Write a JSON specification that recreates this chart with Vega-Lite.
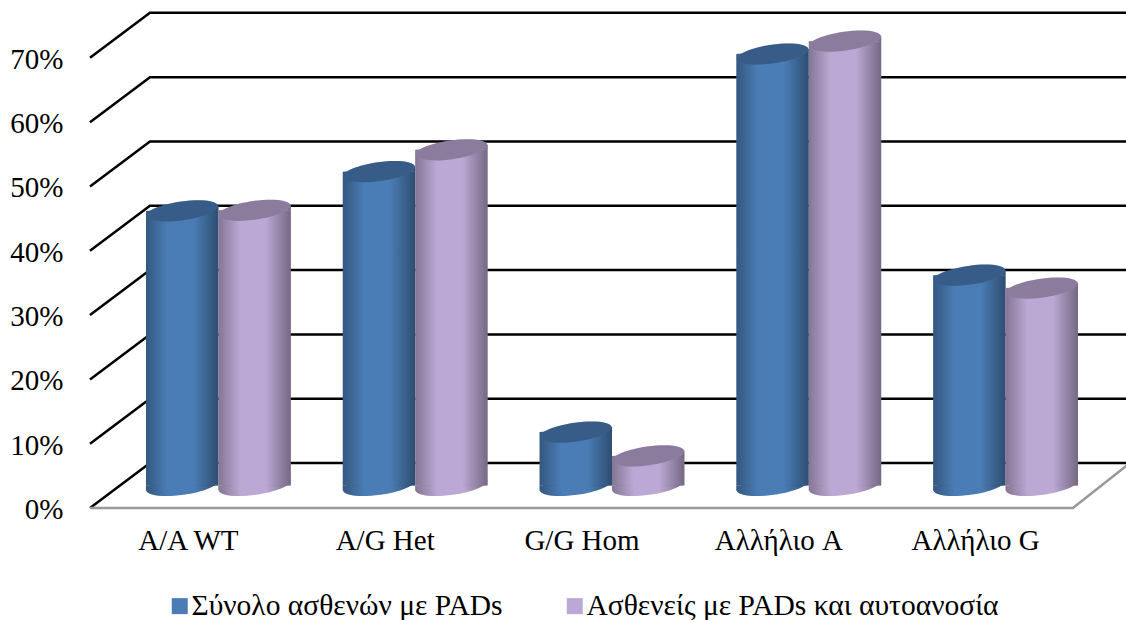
{
"$schema":"https://vega.github.io/schema/vega-lite/v6.json",
"width":1036,"height":508,"autosize":"none",
"padding":{"left":90,"top":0,"right":0,"bottom":112},
"background":"white",
"config":{"view":{"stroke":null},"font":"Liberation Serif"},
"datasets":{
"bars":[
{"category":"A/A WT","series":"Σύνολο ασθενών με PADs","value":42.7},
{"category":"A/A WT","series":"Ασθενείς με PADs και αυτοανοσία","value":42.8},
{"category":"A/G Het","series":"Σύνολο ασθενών με PADs","value":48.8},
{"category":"A/G Het","series":"Ασθενείς με PADs και αυτοανοσία","value":52.2},
{"category":"G/G Hom","series":"Σύνολο ασθενών με PADs","value":8.3},
{"category":"G/G Hom","series":"Ασθενείς με PADs και αυτοανοσία","value":4.6},
{"category":"Αλλήλιο A","series":"Σύνολο ασθενών με PADs","value":67.1},
{"category":"Αλλήλιο A","series":"Ασθενείς με PADs και αυτοανοσία","value":69.1},
{"category":"Αλλήλιο G","series":"Σύνολο ασθενών με PADs","value":32.7},
{"category":"Αλλήλιο G","series":"Ασθενείς με PADs και αυτοανοσία","value":30.7}
],
"grid":[
{"level":0,"pos":0,"h":-3.5},{"level":0,"pos":0.305,"h":3.5},{"level":0,"pos":5.29,"h":3.5},
{"level":10,"pos":0,"h":6.5},{"level":10,"pos":0.305,"h":13.5},{"level":10,"pos":5.29,"h":13.5},
{"level":20,"pos":0,"h":16.5},{"level":20,"pos":0.305,"h":23.5},{"level":20,"pos":5.29,"h":23.5},
{"level":30,"pos":0,"h":26.5},{"level":30,"pos":0.305,"h":33.5},{"level":30,"pos":5.29,"h":33.5},
{"level":40,"pos":0,"h":36.5},{"level":40,"pos":0.305,"h":43.5},{"level":40,"pos":5.29,"h":43.5},
{"level":50,"pos":0,"h":46.5},{"level":50,"pos":0.305,"h":53.5},{"level":50,"pos":5.29,"h":53.5},
{"level":60,"pos":0,"h":56.5},{"level":60,"pos":0.305,"h":63.5},{"level":60,"pos":5.29,"h":63.5},
{"level":70,"pos":0,"h":66.5},{"level":70,"pos":0.305,"h":73.5},{"level":70,"pos":5.29,"h":73.5}
],
"floor":[
{"pos":0,"h":-3.5},{"pos":5,"h":-3.5},{"pos":5.29,"h":3.5}
]
},
"resolve":{"scale":{"x":"independent"}},
"layer":[
{"data":{"name":"grid"},
 "mark":{"type":"line","color":"#000000","strokeWidth":2.5,"clip":false},
 "encoding":{
  "x":{"field":"pos","type":"quantitative","scale":{"domain":[0,5.27],"nice":false,"zero":false},"axis":null},
  "y":{"field":"h","type":"quantitative","scale":{"domain":[-3.5,75.5],"nice":false,"zero":false},
   "axis":{"values":[0,10,20,30,40,50,60,70],"labelExpr":"datum.value+'%'","title":null,"grid":false,"domain":false,"ticks":false,"labelPadding":27,"labelOffset":24,"labelFont":"Liberation Serif","labelFontSize":29,"labelColor":"#000000"}},
  "detail":{"field":"level"}
 }},
{"data":{"name":"floor"},
 "mark":{"type":"line","color":"#999999","strokeWidth":2.5,"clip":false},
 "encoding":{
  "x":{"field":"pos","type":"quantitative","scale":{"domain":[0,5.27],"nice":false,"zero":false},"axis":null},
  "y":{"field":"h","type":"quantitative"}
 }},
{"data":{"name":"bars"},
 "encoding":{
  "x":{"field":"category","type":"nominal","sort":null,
   "scale":{"range":[56,988],"paddingInner":0.264,"paddingOuter":0},
   "axis":{"title":null,"domain":false,"ticks":false,"labelAngle":0,"labelOffset":-30,"labelPadding":18,"labelFont":"Liberation Serif","labelFontSize":29,"labelColor":"#000000","labelLimit":300}},
  "xOffset":{"field":"series","type":"nominal","scale":{"domain":["Σύνολο ασθενών με PADs","Ασθενείς με PADs και αυτοανοσία"]}}
 },
 "layer":[
  {"transform":[{"filter":"datum.series==='Σύνολο ασθενών με PADs'"}],
   "layer":[
    {"mark":{"type":"point","filled":true,"size":5256,"opacity":1,"strokeWidth":0,"angle":-8,"shape":"M-1,0C-1,-0.143 -0.55,-0.26 0,-0.26C0.55,-0.26 1,-0.143 1,0C1,0.143 0.55,0.26 0,0.26C-0.55,0.26 -1,0.143 -1,0Z"},
     "encoding":{"y":{"datum":0,"type":"quantitative"},"color":{"field":"series","type":"nominal","scale":{"domain":["Σύνολο ασθενών με PADs","Ασθενείς με PADs και αυτοανοσία"],"range":["#4a7db6","#bca8d4"]},
      "legend":{"title":null,"orient":"none","legendX":75,"legendY":591,"direction":"horizontal","columns":2,"symbolType":"square","symbolSize":256,"symbolStrokeWidth":0,"symbolOpacity":1,"labelFont":"Liberation Serif","labelFontSize":29.5,"labelColor":"#000000","labelLimit":600,"labelOffset":-3,"columnPadding":57}}}},
    {"mark":{"type":"point","filled":true,"size":5256,"opacity":1,"strokeWidth":0,"angle":-8,"shape":"M-1,0C-1,-0.143 -0.55,-0.26 0,-0.26C0.55,-0.26 1,-0.143 1,0C1,0.143 0.55,0.26 0,0.26C-0.55,0.26 -1,0.143 -1,0Z","color":{"gradient":"linear","x1":0,"x2":1,"y1":0,"y2":0,"stops":[{"offset":0,"color":"rgba(0,0,0,0.3)"},{"offset":0.3,"color":"rgba(0,0,0,0)"},{"offset":0.65,"color":"rgba(0,0,0,0)"},{"offset":1,"color":"rgba(0,0,0,0.38)"}]}},
     "encoding":{"y":{"datum":0,"type":"quantitative"}}},
    {"mark":{"type":"point","filled":true,"size":5256,"opacity":1,"strokeWidth":0,"shape":"M-1,0L-1,0.14L1,0Z"},
     "encoding":{"y":{"datum":0,"type":"quantitative"},"color":{"field":"series","type":"nominal"}}},
    {"mark":{"type":"bar"},
     "encoding":{"y":{"field":"value","type":"quantitative"},"y2":{"datum":0},"color":{"field":"series","type":"nominal"}}},
    {"mark":{"type":"point","filled":true,"size":5256,"opacity":1,"strokeWidth":0,"shape":"M-1,0L1,-0.14L1,0Z"},
     "encoding":{"y":{"field":"value","type":"quantitative"},"color":{"field":"series","type":"nominal"}}},
    {"mark":{"type":"bar","color":{"gradient":"linear","x1":0,"x2":1,"y1":0,"y2":0,"stops":[{"offset":0,"color":"rgba(0,0,0,0.3)"},{"offset":0.3,"color":"rgba(0,0,0,0)"},{"offset":0.65,"color":"rgba(0,0,0,0)"},{"offset":1,"color":"rgba(0,0,0,0.38)"}]}},
     "encoding":{"y":{"field":"value","type":"quantitative"},"y2":{"datum":0}}},
    {"mark":{"type":"point","filled":true,"size":5256,"opacity":1,"strokeWidth":0,"shape":"M-1,0L1,-0.14L1,0Z","color":{"gradient":"linear","x1":0,"x2":1,"y1":0,"y2":0,"stops":[{"offset":0,"color":"rgba(0,0,0,0.3)"},{"offset":0.3,"color":"rgba(0,0,0,0)"},{"offset":0.65,"color":"rgba(0,0,0,0)"},{"offset":1,"color":"rgba(0,0,0,0.38)"}]}},
     "encoding":{"y":{"field":"value","type":"quantitative"}}},
    {"mark":{"type":"point","filled":true,"size":5256,"opacity":1,"strokeWidth":0,"shape":"M-1,0L-1,0.14L1,0Z","color":{"gradient":"linear","x1":0,"x2":1,"y1":0,"y2":0,"stops":[{"offset":0,"color":"rgba(0,0,0,0.3)"},{"offset":0.3,"color":"rgba(0,0,0,0)"},{"offset":0.65,"color":"rgba(0,0,0,0)"},{"offset":1,"color":"rgba(0,0,0,0.38)"}]}},
     "encoding":{"y":{"datum":0,"type":"quantitative"}}},
    {"mark":{"type":"point","filled":true,"size":5256,"opacity":1,"strokeWidth":0,"angle":-8,"shape":"M-1,0C-1,-0.143 -0.55,-0.26 0,-0.26C0.55,-0.26 1,-0.143 1,0C1,0.143 0.55,0.26 0,0.26C-0.55,0.26 -1,0.143 -1,0Z"},
     "encoding":{"y":{"field":"value","type":"quantitative"},"color":{"field":"series","type":"nominal"}}},
    {"mark":{"type":"point","filled":true,"size":5256,"opacity":0.26,"strokeWidth":0,"angle":-8,"color":"#000000","shape":"M-1,0C-1,-0.143 -0.55,-0.26 0,-0.26C0.55,-0.26 1,-0.143 1,0C1,0.143 0.55,0.26 0,0.26C-0.55,0.26 -1,0.143 -1,0Z"},
     "encoding":{"y":{"field":"value","type":"quantitative"}}}
   ]},
  {"transform":[{"filter":"datum.series==='Ασθενείς με PADs και αυτοανοσία'"}],
   "layer":[
    {"mark":{"type":"point","filled":true,"size":5256,"opacity":1,"strokeWidth":0,"angle":-8,"shape":"M-1,0C-1,-0.143 -0.55,-0.26 0,-0.26C0.55,-0.26 1,-0.143 1,0C1,0.143 0.55,0.26 0,0.26C-0.55,0.26 -1,0.143 -1,0Z"},
     "encoding":{"y":{"datum":0,"type":"quantitative"},"color":{"field":"series","type":"nominal"}}},
    {"mark":{"type":"point","filled":true,"size":5256,"opacity":1,"strokeWidth":0,"angle":-8,"shape":"M-1,0C-1,-0.143 -0.55,-0.26 0,-0.26C0.55,-0.26 1,-0.143 1,0C1,0.143 0.55,0.26 0,0.26C-0.55,0.26 -1,0.143 -1,0Z","color":{"gradient":"linear","x1":0,"x2":1,"y1":0,"y2":0,"stops":[{"offset":0,"color":"rgba(0,0,0,0.3)"},{"offset":0.3,"color":"rgba(0,0,0,0)"},{"offset":0.65,"color":"rgba(0,0,0,0)"},{"offset":1,"color":"rgba(0,0,0,0.38)"}]}},
     "encoding":{"y":{"datum":0,"type":"quantitative"}}},
    {"mark":{"type":"point","filled":true,"size":5256,"opacity":1,"strokeWidth":0,"shape":"M-1,0L-1,0.14L1,0Z"},
     "encoding":{"y":{"datum":0,"type":"quantitative"},"color":{"field":"series","type":"nominal"}}},
    {"mark":{"type":"bar"},
     "encoding":{"y":{"field":"value","type":"quantitative"},"y2":{"datum":0},"color":{"field":"series","type":"nominal"}}},
    {"mark":{"type":"point","filled":true,"size":5256,"opacity":1,"strokeWidth":0,"shape":"M-1,0L1,-0.14L1,0Z"},
     "encoding":{"y":{"field":"value","type":"quantitative"},"color":{"field":"series","type":"nominal"}}},
    {"mark":{"type":"bar","color":{"gradient":"linear","x1":0,"x2":1,"y1":0,"y2":0,"stops":[{"offset":0,"color":"rgba(0,0,0,0.3)"},{"offset":0.3,"color":"rgba(0,0,0,0)"},{"offset":0.65,"color":"rgba(0,0,0,0)"},{"offset":1,"color":"rgba(0,0,0,0.38)"}]}},
     "encoding":{"y":{"field":"value","type":"quantitative"},"y2":{"datum":0}}},
    {"mark":{"type":"point","filled":true,"size":5256,"opacity":1,"strokeWidth":0,"shape":"M-1,0L1,-0.14L1,0Z","color":{"gradient":"linear","x1":0,"x2":1,"y1":0,"y2":0,"stops":[{"offset":0,"color":"rgba(0,0,0,0.3)"},{"offset":0.3,"color":"rgba(0,0,0,0)"},{"offset":0.65,"color":"rgba(0,0,0,0)"},{"offset":1,"color":"rgba(0,0,0,0.38)"}]}},
     "encoding":{"y":{"field":"value","type":"quantitative"}}},
    {"mark":{"type":"point","filled":true,"size":5256,"opacity":1,"strokeWidth":0,"shape":"M-1,0L-1,0.14L1,0Z","color":{"gradient":"linear","x1":0,"x2":1,"y1":0,"y2":0,"stops":[{"offset":0,"color":"rgba(0,0,0,0.3)"},{"offset":0.3,"color":"rgba(0,0,0,0)"},{"offset":0.65,"color":"rgba(0,0,0,0)"},{"offset":1,"color":"rgba(0,0,0,0.38)"}]}},
     "encoding":{"y":{"datum":0,"type":"quantitative"}}},
    {"mark":{"type":"point","filled":true,"size":5256,"opacity":1,"strokeWidth":0,"angle":-8,"shape":"M-1,0C-1,-0.143 -0.55,-0.26 0,-0.26C0.55,-0.26 1,-0.143 1,0C1,0.143 0.55,0.26 0,0.26C-0.55,0.26 -1,0.143 -1,0Z"},
     "encoding":{"y":{"field":"value","type":"quantitative"},"color":{"field":"series","type":"nominal"}}},
    {"mark":{"type":"point","filled":true,"size":5256,"opacity":0.26,"strokeWidth":0,"angle":-8,"color":"#000000","shape":"M-1,0C-1,-0.143 -0.55,-0.26 0,-0.26C0.55,-0.26 1,-0.143 1,0C1,0.143 0.55,0.26 0,0.26C-0.55,0.26 -1,0.143 -1,0Z"},
     "encoding":{"y":{"field":"value","type":"quantitative"}}}
   ]}
 ]}
]
}
